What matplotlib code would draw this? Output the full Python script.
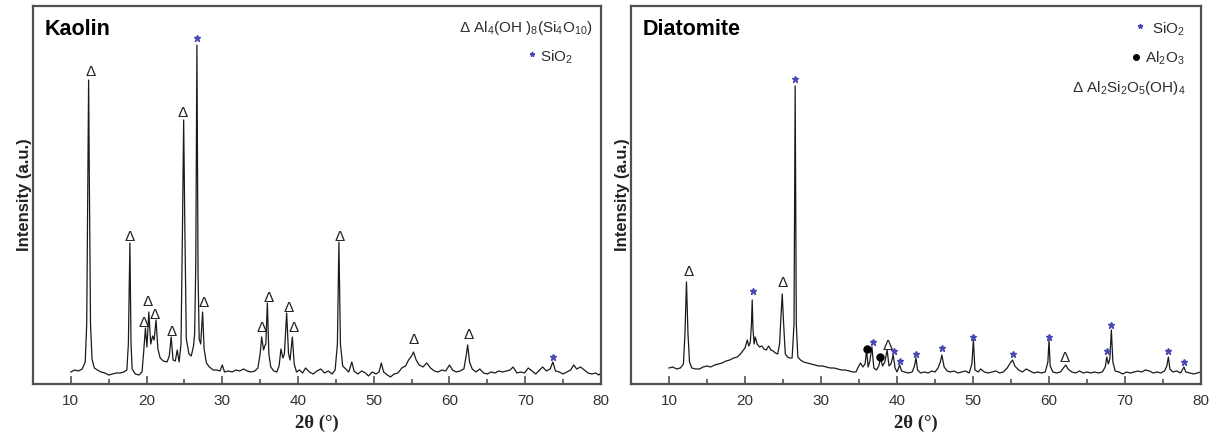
import numpy as np
import matplotlib
matplotlib.use("Agg")
import matplotlib.pyplot as plt

plt.rcParams["font.family"] = ["Liberation Sans", "DejaVu Sans"]
plt.rcParams["mathtext.fontset"] = "custom"
plt.rcParams["mathtext.rm"] = "Liberation Sans"

# ---------- data (intensity in a.u.) ----------
kao_2t = [10.0, 10.5, 11.0, 11.5, 11.9, 12.1, 12.25, 12.35, 12.45, 12.6, 12.8, 13.1, 13.5, 14.0, 14.5,
          15.0, 15.5, 16.0, 16.5, 17.0, 17.4, 17.6, 17.8, 17.95, 18.1, 18.5, 19.0, 19.4, 19.6, 19.85,
          20.05, 20.3, 20.55, 20.8, 21.0, 21.25, 21.5, 21.8, 22.2, 22.7, 23.0, 23.25, 23.5, 23.8, 24.05,
          24.3, 24.55, 24.75, 24.9, 25.05, 25.25, 25.6, 25.9, 26.2, 26.35, 26.5, 26.65, 26.8, 26.95,
          27.15, 27.4, 27.6, 27.9, 28.3, 28.8, 29.3, 29.7, 30.0, 30.3, 30.8, 31.3, 31.8, 32.3, 32.8,
          33.3, 33.8, 34.3, 34.7, 35.0, 35.2, 35.45, 35.6, 35.75, 35.95, 36.15, 36.4, 36.8, 37.2, 37.5,
          37.75, 38.0, 38.2, 38.5, 38.75, 38.95, 39.25, 39.5, 39.8, 40.2, 40.6, 41.0, 41.5, 42.0, 42.5,
          43.0, 43.5, 44.0, 44.5, 44.9, 45.2, 45.4, 45.6, 45.9, 46.3, 46.7, 47.1, 47.4, 47.9, 48.4,
          48.9, 49.3, 49.8, 50.3, 50.7, 51.0, 51.3, 51.8, 52.2, 52.7, 53.2, 53.7, 54.2, 54.6, 55.0,
          55.25, 55.6, 56.0, 56.5, 57.0, 57.5, 58.0, 58.5, 59.0, 59.5, 60.0, 60.4, 60.9, 61.4, 61.9,
          62.2, 62.4, 62.65, 63.0, 63.5, 64.0, 64.5, 65.0, 65.5, 66.0, 66.5, 67.0, 67.5, 68.0, 68.4,
          68.9, 69.4, 69.9, 70.4, 70.9, 71.4, 71.9, 72.3, 72.8, 73.3, 73.65, 74.0, 74.5, 75.0, 75.5,
          76.0, 76.4, 76.8, 77.3, 77.8, 78.3, 78.8, 79.3, 79.7, 80.0]
kao_int = [12, 14, 13, 15, 22, 60, 200, 304, 200, 60, 25, 16, 14, 12, 11,
           9, 10, 11, 11, 12, 14, 40, 141, 40, 15, 10, 9, 12, 30, 56,
           37, 72, 40, 48, 44, 64, 35, 26, 23, 22, 28, 47, 24, 23, 34,
           22, 40, 160, 264, 160, 45, 30, 28, 38, 50, 120, 339, 110, 45,
           40, 72, 35, 21, 17, 14, 14, 13, 19, 12, 13, 12, 14, 13, 15,
           13, 12, 13, 16, 30, 47, 34, 38, 40, 81, 30, 17, 13, 12, 18,
           35, 26, 30, 71, 30, 24, 47, 20, 12, 14, 11, 16, 12, 10, 13,
           15, 11, 13, 10, 14, 40, 142, 40, 18, 15, 12, 22, 13, 10, 13,
           11, 8, 12, 10, 12, 21, 12, 9, 7, 10, 11, 16, 18, 24, 28,
           32, 24, 19, 17, 21, 16, 13, 12, 14, 13, 19, 14, 12, 13, 15,
           28, 39, 22, 15, 12, 15, 11, 10, 12, 11, 13, 12, 13, 14, 17,
           11, 12, 11, 16, 13, 10, 14, 17, 13, 15, 22, 13, 12, 10, 12,
           14, 19, 15, 17, 14, 11, 10, 11, 9, 11]

dia_2t = [10.0, 10.5, 11.0, 11.5, 11.9, 12.1, 12.3, 12.5, 12.7, 13.0, 13.5, 14.0, 14.5, 15.0, 15.5,
          16.0, 16.5, 17.0, 17.5, 18.0, 18.5, 19.0, 19.4, 19.7, 20.0, 20.3, 20.5, 20.7, 20.85, 20.95,
          21.05, 21.2, 21.35, 21.6, 21.9, 22.2, 22.5, 22.8, 23.1, 23.4, 23.7, 24.0, 24.3, 24.55, 24.75,
          24.9, 25.05, 25.3, 25.6, 25.9, 26.2, 26.45, 26.6, 26.75, 26.95, 27.3, 27.7, 28.2, 28.7, 29.2,
          29.7, 30.2, 30.7, 31.2, 31.7, 32.2, 32.7, 33.2, 33.7, 34.2, 34.6, 34.9, 35.2, 35.5, 35.8,
          36.0, 36.2, 36.4, 36.7, 36.95, 37.3, 37.6, 37.85, 38.1, 38.4, 38.7, 38.95, 39.2, 39.5, 39.75,
          40.0, 40.35, 40.6, 41.0, 41.5, 42.0, 42.3, 42.5, 42.7, 43.1, 43.6, 44.1, 44.6, 45.0, 45.4,
          45.7, 45.9, 46.2, 46.6, 47.0, 47.5, 48.0, 48.5, 49.0, 49.5, 49.85, 50.05, 50.25, 50.7, 51.0,
          51.5, 52.0, 52.5, 53.0, 53.5, 54.0, 54.5, 54.9, 55.2, 55.5, 56.0, 56.5, 57.0, 57.5, 58.0,
          58.5, 59.0, 59.5, 59.85, 60.0, 60.15, 60.5, 61.0, 61.5, 61.9, 62.2, 62.5, 63.0, 63.5, 64.0,
          64.5, 65.0, 65.5, 66.0, 66.5, 67.0, 67.4, 67.6, 67.8, 68.0, 68.2, 68.4, 68.7, 69.2, 69.7,
          70.2, 70.7, 71.2, 71.7, 72.2, 72.7, 73.2, 73.7, 74.2, 74.7, 75.2, 75.5, 75.7, 75.9, 76.3,
          76.8, 77.3, 77.6, 77.75, 78.0, 78.5, 79.0, 79.5, 80.0]
dia_int = [16, 17, 15, 16, 20, 50, 102, 50, 22, 16, 15, 15, 17, 18, 17,
           19, 20, 21, 23, 24, 26, 27, 30, 33, 36, 44, 38, 42, 60, 84,
           55, 40, 47, 40, 37, 38, 35, 34, 38, 34, 33, 31, 30, 40, 70,
           90, 65, 30, 27, 26, 26, 60, 298, 60, 27, 24, 22, 21, 20, 19,
           18, 18, 17, 16, 16, 15, 14, 14, 13, 12, 12, 17, 21, 17, 20,
           34, 17, 22, 37, 16, 14, 18, 26, 18, 22, 34, 18, 20, 29, 16,
           12, 19, 13, 12, 11, 12, 18, 26, 14, 11, 12, 11, 13, 12, 16,
           22, 29, 17, 13, 12, 13, 11, 12, 13, 11, 20, 44, 14, 12, 15,
           12, 11, 12, 13, 11, 12, 16, 21, 24, 18, 14, 12, 15, 13, 11,
           12, 11, 12, 22, 44, 18, 12, 11, 12, 16, 19, 15, 12, 11, 13,
           11, 12, 11, 12, 11, 12, 17, 27, 20, 25, 54, 22, 13, 12, 10,
           12, 11, 12, 13, 12, 14, 13, 11, 12, 11, 13, 18, 27, 15, 12,
           13, 11, 15, 17, 12, 11, 10, 11, 12]

# peak markers (position, height of symbol)
kao_tri_x = [12.6, 17.8, 19.6, 20.2, 21.1, 23.3, 24.8, 27.6, 35.2, 36.1, 38.8, 39.4, 45.5, 55.2, 62.5]
kao_tri_y = [312, 147, 61, 82, 69, 52, 271, 81, 56, 86, 76, 56, 147, 44, 49]
kao_star_x = [26.65, 73.7]
kao_star_y = [346, 27]

dia_tri_x = [12.6, 24.95, 38.8, 62.1]
dia_tri_y = [112, 101, 38, 26]
dia_star_x = [21.0, 26.6, 36.8, 39.55, 40.4, 42.5, 45.9, 50.0, 55.2, 60.0, 67.6, 68.2, 75.7, 77.7]
dia_star_y = [93, 305, 42, 33, 23, 30, 36, 47, 30, 47, 33, 59, 33, 22]
dia_dot_x = [36.0, 37.8]
dia_dot_y = [35, 27]

STAR_COL = "#4848b4"
SPINE_COL = "#505050"
TXT_COL = "#2e2e2e"

fig = plt.figure(figsize=(12.16, 4.36), dpi=100)
ax1 = fig.add_axes([0.0271, 0.1193, 0.4671, 0.8669])
ax2 = fig.add_axes([0.5189, 0.1193, 0.4688, 0.8669])


def style_axis(ax):
    ax.set_xlim(5, 80)
    ax.set_ylim(0, 378)
    ax.set_xticks([10, 20, 30, 40, 50, 60, 70, 80])
    ax.set_xticks([15, 25, 35, 45, 55, 65, 75], minor=True)
    ax.set_yticks([])
    ax.tick_params(axis="x", which="major", direction="in", length=6, width=1.2,
                   color=SPINE_COL, labelsize=11, labelcolor="#333333", pad=7)
    ax.tick_params(axis="x", which="minor", direction="in", length=3.5, width=1.2,
                   color=SPINE_COL)
    for s in ax.spines.values():
        s.set_color(SPINE_COL)
        s.set_linewidth(1.6)
    ax.set_xlabel("2θ (°)", family="Liberation Serif", fontweight="bold", fontsize=13.5,
                  labelpad=5, color="#222222")
    ax.set_ylabel("Intensity (a.u.)", fontweight="bold", fontsize=12, labelpad=1,
                  color="#222222")


for ax in (ax1, ax2):
    style_axis(ax)

# ---------- Kaolin ----------
ax1.plot(kao_2t, kao_int, color="#1a1a1a", lw=0.9)
for x, y in zip(kao_tri_x, kao_tri_y):
    ax1.text(x, y, "Δ", ha="center", va="center", fontsize=11, color="#222222")
ax1.plot(kao_star_x, kao_star_y, ls="none", marker="*", ms=4.5, color=STAR_COL)
ax1.text(0.021, 0.937, "Kaolin", transform=ax1.transAxes, fontsize=15.5, fontweight="bold",
         ha="left", va="center")
ax1.text(0.986, 0.942,
         r"Δ Al$\mathregular{_4}$(OH )$\mathregular{_8}$(Si$\mathregular{_4}$O$\mathregular{_{10}}$)",
         transform=ax1.transAxes, ha="right", va="center", fontsize=11, color=TXT_COL)
ax1.plot([0.878], [0.872], transform=ax1.transAxes, marker="*", ms=3.5, color=STAR_COL)
ax1.text(0.951, 0.865, r"SiO$\mathregular{_2}$", transform=ax1.transAxes,
         ha="right", va="center", fontsize=11, color=TXT_COL)

# ---------- Diatomite ----------
ax2.plot(dia_2t, dia_int, color="#1a1a1a", lw=0.9)
for x, y in zip(dia_tri_x, dia_tri_y):
    ax2.text(x, y, "Δ", ha="center", va="center", fontsize=11, color="#222222")
ax2.plot(dia_star_x, dia_star_y, ls="none", marker="*", ms=4.5, color=STAR_COL)
ax2.plot(dia_dot_x, dia_dot_y, ls="none", marker="o", ms=5, color="black")
ax2.text(0.021, 0.939, "Diatomite", transform=ax2.transAxes, fontsize=15.5, fontweight="bold",
         ha="left", va="center")
ax2.plot([0.893], [0.947], transform=ax2.transAxes, marker="*", ms=3.5, color=STAR_COL)
ax2.text(0.972, 0.939, r"SiO$\mathregular{_2}$", transform=ax2.transAxes,
         ha="right", va="center", fontsize=11, color=TXT_COL)
ax2.plot([0.886], [0.865], transform=ax2.transAxes, marker="o", ms=4, color="black")
ax2.text(0.970, 0.862, r"Al$\mathregular{_2}$O$\mathregular{_3}$", transform=ax2.transAxes,
         ha="right", va="center", fontsize=11, color=TXT_COL)
ax2.text(0.972, 0.783,
         r"Δ Al$\mathregular{_2}$Si$\mathregular{_2}$O$\mathregular{_5}$(OH)$\mathregular{_4}$",
         transform=ax2.transAxes, ha="right", va="center", fontsize=11, color=TXT_COL)

fig.savefig("out.png", dpi=100)
